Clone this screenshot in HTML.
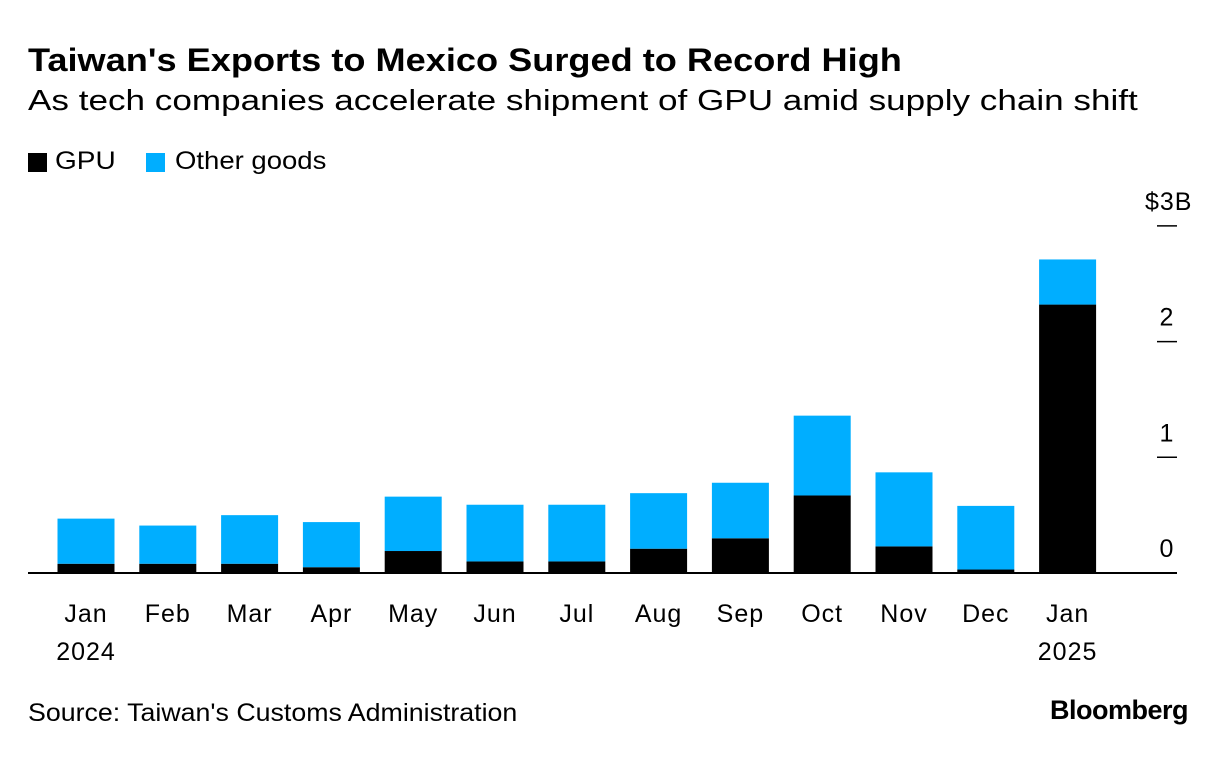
<!DOCTYPE html>
<html><head><meta charset="utf-8"><style>
body{margin:0;background:#fff;font-family:"Liberation Sans",sans-serif;}
#wrap{position:relative;width:1230px;height:770px;overflow:hidden;}
.t{position:absolute;white-space:nowrap;color:#000;transform-origin:0 0;}
</style></head><body>
<div id="wrap">
<div class="t" style="left:28px;top:42px;font-size:32px;font-weight:bold;transform:scaleX(1.13)">Taiwan's Exports to Mexico Surged to Record High</div>
<div class="t" style="left:28px;top:85px;font-size:29px;transform:scaleX(1.21)">As tech companies accelerate shipment of GPU amid supply chain shift</div>
<div style="position:absolute;left:28px;top:153px;width:19px;height:19px;background:#000"></div>
<div class="t" style="left:55px;top:147px;font-size:25px;transform:scaleX(1.12)">GPU</div>
<div style="position:absolute;left:146px;top:153px;width:19px;height:19px;background:#00aeff"></div>
<div class="t" style="left:175px;top:147px;font-size:25px;transform:scaleX(1.1)">Other goods</div>
<svg id="chart" width="1230" height="770" style="position:absolute;left:0;top:0"></svg>
<div class="t" style="left:28px;top:699px;font-size:25px;transform:scaleX(1.07)">Source: Taiwan's Customs Administration</div>
<div class="t" style="left:1050px;top:695px;font-size:27px;font-weight:bold;letter-spacing:-0.5px">Bloomberg</div>
</div>
<script>
const months=["Jan","Feb","Mar","Apr","May","Jun","Jul","Aug","Sep","Oct","Nov","Dec","Jan"];
const years=["2024","","","","","","","","","","","","2025"];
const gpu=[0.08,0.08,0.08,0.05,0.19,0.10,0.10,0.21,0.30,0.67,0.23,0.03,2.32];
const other=[0.39,0.33,0.42,0.39,0.47,0.49,0.49,0.48,0.48,0.69,0.64,0.55,0.39];
const yTicks=[0,1,2,3];
const yTickLabels=["0","1","2","$3B"];
const NS="http://www.w3.org/2000/svg";
const svg=document.getElementById('chart');
const y0=573,pxPer=115.7,x0=86,step=81.8,bw=57;
const y=v=>y0-v*pxPer;
const x=i=>x0+i*step;
function mk(tag,attrs){const e=document.createElementNS(NS,tag);for(const k in attrs)e.setAttribute(k,attrs[k]);svg.appendChild(e);return e;}
yTicks.forEach((t,i)=>{
 if(t>0){const l=mk('line',{x1:1157,x2:1177,y1:y(t),y2:y(t),stroke:'#000','stroke-width':1.5});
 
 }
 const last=i===yTicks.length-1;
 const tx=mk('text',{x:last?1145:1167,y:y(t)-16,'text-anchor':last?'start':'middle','font-size':25,'letter-spacing':1,'font-family':'Liberation Sans, sans-serif'});
 tx.textContent=yTickLabels[i];
 
 
});
months.forEach((m,i)=>{
 const cx=x(i);
 const g=mk('rect',{x:cx-bw/2,y:y(gpu[i]),width:bw,height:gpu[i]*pxPer,fill:'#000'});
 
 
 const o=mk('rect',{x:cx-bw/2,y:y(gpu[i]+other[i]),width:bw,height:other[i]*pxPer,fill:'#00aeff'});
 
 
 const t=mk('text',{x:cx,y:622,'text-anchor':'middle','font-size':25,'letter-spacing':1,'font-family':'Liberation Sans, sans-serif'});
 t.textContent=m;
 
 
 if(years[i]){const yt=mk('text',{x:cx,y:660,'text-anchor':'middle','font-size':25,'letter-spacing':1,'font-family':'Liberation Sans, sans-serif'});
 yt.textContent=years[i];
 
 }
});
const base=mk('line',{x1:28,x2:1177,y1:y0,y2:y0,stroke:'#000','stroke-width':2});


</script>
</body></html>
